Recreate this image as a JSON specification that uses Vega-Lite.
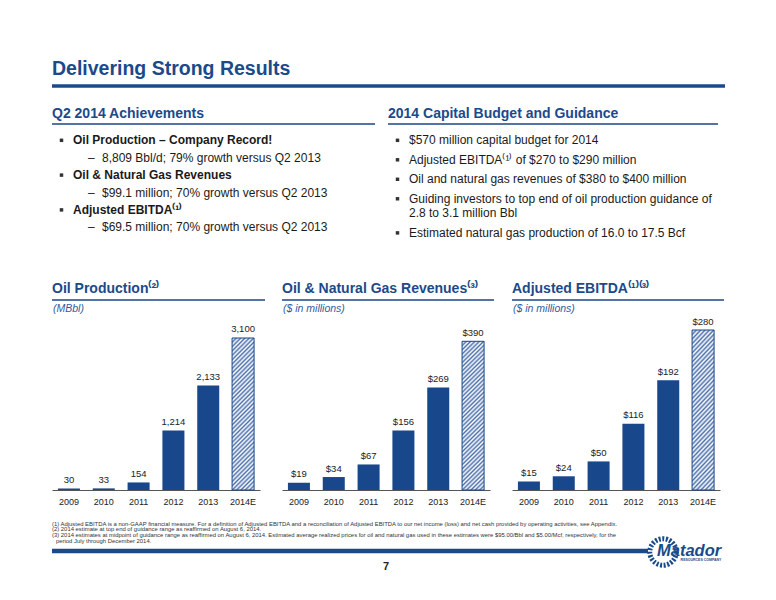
{
 "$schema": "https://vega.github.io/schema/vega-lite/v6.json",
 "padding": 0,
 "spacing": 0,
 "bounds": "full",
 "background": "white",
 "config": {
  "view": {"stroke": null},
  "font": "Liberation Sans",
  "text": {"font": "Liberation Sans"},
  "axis": {"labelFont": "Liberation Sans"}
 },
 "datasets": {
  "hdrL": [
   {"n": 0, "lvl": 1, "t": "Oil Production – Company Record!"},
   {"n": 1, "lvl": 2, "t": "8,809 Bbl/d; 79% growth versus Q2 2013"},
   {"n": 2, "lvl": 1, "t": "Oil & Natural Gas Revenues"},
   {"n": 3, "lvl": 2, "t": "$99.1 million; 70% growth versus Q2 2013"},
   {"n": 4, "lvl": 1, "t": "Adjusted EBITDA⁽¹⁾"},
   {"n": 5, "lvl": 2, "t": "$69.5 million; 70% growth versus Q2 2013"}
  ],
  "hdrR": [
   {"n": 0, "lvl": 1, "t": "$570 million capital budget for 2014"},
   {"n": 1, "lvl": 1, "t": "Adjusted EBITDA⁽¹⁾ of $270 to $290 million"},
   {"n": 2, "lvl": 1, "t": "Oil and natural gas revenues of $380 to $400 million"},
   {"n": 3, "lvl": 1, "t": "Guiding investors to top end of oil production guidance of"},
   {"n": 3.75, "lvl": 0, "t": "2.8 to 3.1 million Bbl"},
   {"n": 4.75, "lvl": 1, "t": "Estimated natural gas production of 16.0 to 17.5 Bcf"}
  ],
  "foot": [
   {"n": 0, "t": "(1) Adjusted EBITDA is a non-GAAP financial measure. For a definition of Adjusted EBITDA and a reconciliation of Adjusted EBITDA to our net income (loss) and net cash provided by operating activities, see Appendix."},
   {"n": 1, "t": "(2) 2014 estimate at top end of guidance range as reaffirmed on August 6, 2014."},
   {"n": 2, "t": "(3) 2014 estimates at midpoint of guidance range as reaffirmed on August 6, 2014. Estimated average realized prices for oil and natural gas used in these estimates were $95.00/Bbl and $5.00/Mcf, respectively, for the"},
   {"n": 3, "t": "period July through December 2014."}
  ],
  "oil": [
   {"year": "2009", "v": 30}, {"year": "2010", "v": 33}, {"year": "2011", "v": 154},
   {"year": "2012", "v": 1214}, {"year": "2013", "v": 2133}, {"year": "2014E", "v": 3100}
  ],
  "rev": [
   {"year": "2009", "v": 19}, {"year": "2010", "v": 34}, {"year": "2011", "v": 67},
   {"year": "2012", "v": 156}, {"year": "2013", "v": 269}, {"year": "2014E", "v": 390}
  ],
  "ebitda": [
   {"year": "2009", "v": 15}, {"year": "2010", "v": 24}, {"year": "2011", "v": 50},
   {"year": "2012", "v": 116}, {"year": "2013", "v": 192}, {"year": "2014E", "v": 280}
  ]
 },
 "vconcat": [
  {
   "width": 776, "height": 312,
   "data": {"values": [{}]},
   "resolve": {"scale": {"y": "independent"}},
   "layer": [
    {"mark": {"type": "text", "text": "Delivering Strong Results", "x": 52, "y": 75, "align": "left", "baseline": "alphabetic", "fontSize": 19.5, "fontWeight": "bold", "color": "#1B4A8A"}, "encoding": {}},
    {"mark": {"type": "rule", "strokeWidth": 3.5, "color": "#1B4A8A"}, "encoding": {"x": {"value": 52}, "x2": {"value": 725}, "y": {"value": 86}}},
    {"mark": {"type": "text", "text": "Q2 2014 Achievements", "x": 52, "y": 118, "align": "left", "baseline": "alphabetic", "fontSize": 14, "fontWeight": "bold", "color": "#1B4A8A"}, "encoding": {}},
    {"mark": {"type": "text", "text": "2014 Capital Budget and Guidance", "x": 388, "y": 118, "align": "left", "baseline": "alphabetic", "fontSize": 14, "fontWeight": "bold", "color": "#1B4A8A"}, "encoding": {}},
    {"mark": {"type": "rule", "strokeWidth": 2, "color": "#5674A3"}, "encoding": {"x": {"value": 52}, "x2": {"value": 375}, "y": {"value": 124}}},
    {"mark": {"type": "rule", "strokeWidth": 2, "color": "#5674A3"}, "encoding": {"x": {"value": 388}, "x2": {"value": 718}, "y": {"value": 124}}},
    {"mark": {"type": "text", "text": "Oil Production⁽²⁾", "x": 52, "y": 293, "align": "left", "baseline": "alphabetic", "fontSize": 14, "fontWeight": "bold", "color": "#1B4A8A"}, "encoding": {}},
    {"mark": {"type": "text", "text": "Oil & Natural Gas Revenues⁽³⁾", "x": 282, "y": 293, "align": "left", "baseline": "alphabetic", "fontSize": 14, "fontWeight": "bold", "color": "#1B4A8A"}, "encoding": {}},
    {"mark": {"type": "text", "text": "Adjusted EBITDA⁽¹⁾⁽³⁾", "x": 512, "y": 293, "align": "left", "baseline": "alphabetic", "fontSize": 14, "fontWeight": "bold", "color": "#1B4A8A"}, "encoding": {}},
    {"mark": {"type": "rule", "strokeWidth": 2, "color": "#5674A3"}, "encoding": {"x": {"value": 52}, "x2": {"value": 265}, "y": {"value": 300}}},
    {"mark": {"type": "rule", "strokeWidth": 2, "color": "#5674A3"}, "encoding": {"x": {"value": 282}, "x2": {"value": 494}, "y": {"value": 300}}},
    {"mark": {"type": "rule", "strokeWidth": 2, "color": "#5674A3"}, "encoding": {"x": {"value": 512}, "x2": {"value": 724}, "y": {"value": 300}}},
    {"mark": {"type": "text", "text": "(MBbl)", "x": 53, "y": 312, "align": "left", "baseline": "alphabetic", "fontSize": 10.5, "fontStyle": "italic", "color": "#2F5C9E"}, "encoding": {}},
    {"mark": {"type": "text", "text": "($ in millions)", "x": 283, "y": 312, "align": "left", "baseline": "alphabetic", "fontSize": 10.5, "fontStyle": "italic", "color": "#2F5C9E"}, "encoding": {}},
    {"mark": {"type": "text", "text": "($ in millions)", "x": 513, "y": 312, "align": "left", "baseline": "alphabetic", "fontSize": 10.5, "fontStyle": "italic", "color": "#2F5C9E"}, "encoding": {}},
    {
     "data": {"name": "hdrL"},
     "transform": [{"filter": "datum.lvl == 1"}],
     "mark": {"type": "text", "x": 73, "align": "left", "baseline": "alphabetic", "fontSize": 12, "fontWeight": "bold", "color": "#1a1a1a"},
     "encoding": {"y": {"field": "n", "type": "quantitative", "scale": {"domain": [0, 5], "range": [144.3, 231.3]}, "axis": null}, "text": {"field": "t"}}
    },
    {
     "data": {"name": "hdrL"},
     "transform": [{"filter": "datum.lvl == 1"}],
     "mark": {"type": "point", "shape": "square", "filled": true, "size": 12, "color": "#333", "opacity": 1, "x": 61.5, "yOffset": -4},
     "encoding": {"y": {"field": "n", "type": "quantitative", "scale": {"domain": [0, 5], "range": [144.3, 231.3]}, "axis": null}}
    },
    {
     "data": {"name": "hdrL"},
     "transform": [{"filter": "datum.lvl == 2"}],
     "mark": {"type": "text", "text": "–", "x": 88, "align": "left", "baseline": "alphabetic", "fontSize": 12, "color": "#1a1a1a"},
     "encoding": {"y": {"field": "n", "type": "quantitative", "scale": {"domain": [0, 5], "range": [144.3, 231.3]}, "axis": null}}
    },
    {
     "data": {"name": "hdrL"},
     "transform": [{"filter": "datum.lvl == 2"}],
     "mark": {"type": "text", "x": 102, "align": "left", "baseline": "alphabetic", "fontSize": 12, "color": "#1a1a1a"},
     "encoding": {"y": {"field": "n", "type": "quantitative", "scale": {"domain": [0, 5], "range": [144.3, 231.3]}, "axis": null}, "text": {"field": "t"}}
    },
    {
     "data": {"name": "hdrR"},
     "mark": {"type": "text", "x": 409, "align": "left", "baseline": "alphabetic", "fontSize": 12, "color": "#1a1a1a"},
     "encoding": {"y": {"field": "n", "type": "quantitative", "scale": {"domain": [0, 4.75], "range": [144.3, 236.9]}, "axis": null}, "text": {"field": "t"}}
    },
    {
     "data": {"name": "hdrR"},
     "transform": [{"filter": "datum.lvl == 1"}],
     "mark": {"type": "point", "shape": "square", "filled": true, "size": 12, "color": "#333", "opacity": 1, "x": 397.5, "yOffset": -4},
     "encoding": {"y": {"field": "n", "type": "quantitative", "scale": {"domain": [0, 4.75], "range": [144.3, 236.9]}, "axis": null}}
    }
   ]
  },
  {
   "hconcat": [
    {"width": 30, "height": 193, "data": {"values": [{}]}, "mark": {"type": "text", "text": ""}, "encoding": {}},
    {
     "width": 208, "height": 193,
     "data": {"name": "oil"},
     "encoding": {
      "x": {"field": "year", "type": "ordinal", "scale": {"domain": ["2009", "2010", "2011", "2012", "2013", "2014E"], "paddingInner": 0.368, "paddingOuter": 0.17}, "axis": {"title": null, "labelAngle": 0, "ticks": false, "offset": -18, "domainColor": "#555", "labelFontSize": 9, "labelColor": "#222", "labelPadding": 7}},
      "y": {"field": "v", "type": "quantitative", "scale": {"domain": [0, 3569], "range": [175, 0], "nice": false}, "axis": null}
     },
     "layer": [
      {"transform": [{"filter": "datum.year != '2014E'"}], "mark": {"type": "bar", "color": "#18478B"}},
      {"transform": [{"filter": "datum.year == '2014E'"}], "mark": {"type": "bar", "stroke": "#18478B", "strokeWidth": 1, "fill": {"gradient": "linear", "x1": 0, "y1": 0, "x2": 0.163, "y2": 1.121, "stops": [{"offset":0,"color":"#4D71AD"},{"offset":0.0125,"color":"#fff"},{"offset":0.025,"color":"#4D71AD"},{"offset":0.0375,"color":"#fff"},{"offset":0.05,"color":"#4D71AD"},{"offset":0.0625,"color":"#fff"},{"offset":0.075,"color":"#4D71AD"},{"offset":0.0875,"color":"#fff"},{"offset":0.1,"color":"#4D71AD"},{"offset":0.1125,"color":"#fff"},{"offset":0.125,"color":"#4D71AD"},{"offset":0.1375,"color":"#fff"},{"offset":0.15,"color":"#4D71AD"},{"offset":0.1625,"color":"#fff"},{"offset":0.175,"color":"#4D71AD"},{"offset":0.1875,"color":"#fff"},{"offset":0.2,"color":"#4D71AD"},{"offset":0.2125,"color":"#fff"},{"offset":0.225,"color":"#4D71AD"},{"offset":0.2375,"color":"#fff"},{"offset":0.25,"color":"#4D71AD"},{"offset":0.2625,"color":"#fff"},{"offset":0.275,"color":"#4D71AD"},{"offset":0.2875,"color":"#fff"},{"offset":0.3,"color":"#4D71AD"},{"offset":0.3125,"color":"#fff"},{"offset":0.325,"color":"#4D71AD"},{"offset":0.3375,"color":"#fff"},{"offset":0.35,"color":"#4D71AD"},{"offset":0.3625,"color":"#fff"},{"offset":0.375,"color":"#4D71AD"},{"offset":0.3875,"color":"#fff"},{"offset":0.4,"color":"#4D71AD"},{"offset":0.4125,"color":"#fff"},{"offset":0.425,"color":"#4D71AD"},{"offset":0.4375,"color":"#fff"},{"offset":0.45,"color":"#4D71AD"},{"offset":0.4625,"color":"#fff"},{"offset":0.475,"color":"#4D71AD"},{"offset":0.4875,"color":"#fff"},{"offset":0.5,"color":"#4D71AD"},{"offset":0.5125,"color":"#fff"},{"offset":0.525,"color":"#4D71AD"},{"offset":0.5375,"color":"#fff"},{"offset":0.55,"color":"#4D71AD"},{"offset":0.5625,"color":"#fff"},{"offset":0.575,"color":"#4D71AD"},{"offset":0.5875,"color":"#fff"},{"offset":0.6,"color":"#4D71AD"},{"offset":0.6125,"color":"#fff"},{"offset":0.625,"color":"#4D71AD"},{"offset":0.6375,"color":"#fff"},{"offset":0.65,"color":"#4D71AD"},{"offset":0.6625,"color":"#fff"},{"offset":0.675,"color":"#4D71AD"},{"offset":0.6875,"color":"#fff"},{"offset":0.7,"color":"#4D71AD"},{"offset":0.7125,"color":"#fff"},{"offset":0.725,"color":"#4D71AD"},{"offset":0.7375,"color":"#fff"},{"offset":0.75,"color":"#4D71AD"},{"offset":0.7625,"color":"#fff"},{"offset":0.775,"color":"#4D71AD"},{"offset":0.7875,"color":"#fff"},{"offset":0.8,"color":"#4D71AD"},{"offset":0.8125,"color":"#fff"},{"offset":0.825,"color":"#4D71AD"},{"offset":0.8375,"color":"#fff"},{"offset":0.85,"color":"#4D71AD"},{"offset":0.8625,"color":"#fff"},{"offset":0.875,"color":"#4D71AD"},{"offset":0.8875,"color":"#fff"},{"offset":0.9,"color":"#4D71AD"},{"offset":0.9125,"color":"#fff"},{"offset":0.925,"color":"#4D71AD"},{"offset":0.9375,"color":"#fff"},{"offset":0.95,"color":"#4D71AD"},{"offset":0.9625,"color":"#fff"},{"offset":0.975,"color":"#4D71AD"},{"offset":0.9875,"color":"#fff"},{"offset":1,"color":"#4D71AD"}]}}},
      {"mark": {"type": "text", "baseline": "middle", "dy": -8.5, "fontSize": 9.5, "color": "#222"}, "encoding": {"text": {"field": "v", "type": "quantitative", "format": ",d"}}}
     ]
    },
    {
     "width": 208, "height": 193,
     "data": {"name": "rev"},
     "encoding": {
      "x": {"field": "year", "type": "ordinal", "scale": {"domain": ["2009", "2010", "2011", "2012", "2013", "2014E"], "paddingInner": 0.368, "paddingOuter": 0.17}, "axis": {"title": null, "labelAngle": 0, "ticks": false, "offset": -18, "domainColor": "#555", "labelFontSize": 9, "labelColor": "#222", "labelPadding": 7}},
      "y": {"field": "v", "type": "quantitative", "scale": {"domain": [0, 459], "range": [175, 0], "nice": false}, "axis": null}
     },
     "layer": [
      {"transform": [{"filter": "datum.year != '2014E'"}], "mark": {"type": "bar", "color": "#18478B"}},
      {"transform": [{"filter": "datum.year == '2014E'"}], "mark": {"type": "bar", "stroke": "#18478B", "strokeWidth": 1, "fill": {"gradient": "linear", "x1": 0, "y1": 0, "x2": 0.163, "y2": 1.121, "stops": [{"offset":0,"color":"#4D71AD"},{"offset":0.0125,"color":"#fff"},{"offset":0.025,"color":"#4D71AD"},{"offset":0.0375,"color":"#fff"},{"offset":0.05,"color":"#4D71AD"},{"offset":0.0625,"color":"#fff"},{"offset":0.075,"color":"#4D71AD"},{"offset":0.0875,"color":"#fff"},{"offset":0.1,"color":"#4D71AD"},{"offset":0.1125,"color":"#fff"},{"offset":0.125,"color":"#4D71AD"},{"offset":0.1375,"color":"#fff"},{"offset":0.15,"color":"#4D71AD"},{"offset":0.1625,"color":"#fff"},{"offset":0.175,"color":"#4D71AD"},{"offset":0.1875,"color":"#fff"},{"offset":0.2,"color":"#4D71AD"},{"offset":0.2125,"color":"#fff"},{"offset":0.225,"color":"#4D71AD"},{"offset":0.2375,"color":"#fff"},{"offset":0.25,"color":"#4D71AD"},{"offset":0.2625,"color":"#fff"},{"offset":0.275,"color":"#4D71AD"},{"offset":0.2875,"color":"#fff"},{"offset":0.3,"color":"#4D71AD"},{"offset":0.3125,"color":"#fff"},{"offset":0.325,"color":"#4D71AD"},{"offset":0.3375,"color":"#fff"},{"offset":0.35,"color":"#4D71AD"},{"offset":0.3625,"color":"#fff"},{"offset":0.375,"color":"#4D71AD"},{"offset":0.3875,"color":"#fff"},{"offset":0.4,"color":"#4D71AD"},{"offset":0.4125,"color":"#fff"},{"offset":0.425,"color":"#4D71AD"},{"offset":0.4375,"color":"#fff"},{"offset":0.45,"color":"#4D71AD"},{"offset":0.4625,"color":"#fff"},{"offset":0.475,"color":"#4D71AD"},{"offset":0.4875,"color":"#fff"},{"offset":0.5,"color":"#4D71AD"},{"offset":0.5125,"color":"#fff"},{"offset":0.525,"color":"#4D71AD"},{"offset":0.5375,"color":"#fff"},{"offset":0.55,"color":"#4D71AD"},{"offset":0.5625,"color":"#fff"},{"offset":0.575,"color":"#4D71AD"},{"offset":0.5875,"color":"#fff"},{"offset":0.6,"color":"#4D71AD"},{"offset":0.6125,"color":"#fff"},{"offset":0.625,"color":"#4D71AD"},{"offset":0.6375,"color":"#fff"},{"offset":0.65,"color":"#4D71AD"},{"offset":0.6625,"color":"#fff"},{"offset":0.675,"color":"#4D71AD"},{"offset":0.6875,"color":"#fff"},{"offset":0.7,"color":"#4D71AD"},{"offset":0.7125,"color":"#fff"},{"offset":0.725,"color":"#4D71AD"},{"offset":0.7375,"color":"#fff"},{"offset":0.75,"color":"#4D71AD"},{"offset":0.7625,"color":"#fff"},{"offset":0.775,"color":"#4D71AD"},{"offset":0.7875,"color":"#fff"},{"offset":0.8,"color":"#4D71AD"},{"offset":0.8125,"color":"#fff"},{"offset":0.825,"color":"#4D71AD"},{"offset":0.8375,"color":"#fff"},{"offset":0.85,"color":"#4D71AD"},{"offset":0.8625,"color":"#fff"},{"offset":0.875,"color":"#4D71AD"},{"offset":0.8875,"color":"#fff"},{"offset":0.9,"color":"#4D71AD"},{"offset":0.9125,"color":"#fff"},{"offset":0.925,"color":"#4D71AD"},{"offset":0.9375,"color":"#fff"},{"offset":0.95,"color":"#4D71AD"},{"offset":0.9625,"color":"#fff"},{"offset":0.975,"color":"#4D71AD"},{"offset":0.9875,"color":"#fff"},{"offset":1,"color":"#4D71AD"}]}}},
      {"mark": {"type": "text", "baseline": "middle", "dy": -8.5, "fontSize": 9.5, "color": "#222"}, "encoding": {"text": {"field": "v", "type": "quantitative", "format": "$,d"}}}
     ]
    },
    {
     "width": 208, "height": 193,
     "data": {"name": "ebitda"},
     "encoding": {
      "x": {"field": "year", "type": "ordinal", "scale": {"domain": ["2009", "2010", "2011", "2012", "2013", "2014E"], "paddingInner": 0.368, "paddingOuter": 0.17}, "axis": {"title": null, "labelAngle": 0, "ticks": false, "offset": -18, "domainColor": "#555", "labelFontSize": 9, "labelColor": "#222", "labelPadding": 7}},
      "y": {"field": "v", "type": "quantitative", "scale": {"domain": [0, 306.25], "range": [175, 0], "nice": false}, "axis": null}
     },
     "layer": [
      {"transform": [{"filter": "datum.year != '2014E'"}], "mark": {"type": "bar", "color": "#18478B"}},
      {"transform": [{"filter": "datum.year == '2014E'"}], "mark": {"type": "bar", "stroke": "#18478B", "strokeWidth": 1, "fill": {"gradient": "linear", "x1": 0, "y1": 0, "x2": 0.163, "y2": 1.121, "stops": [{"offset":0,"color":"#4D71AD"},{"offset":0.0125,"color":"#fff"},{"offset":0.025,"color":"#4D71AD"},{"offset":0.0375,"color":"#fff"},{"offset":0.05,"color":"#4D71AD"},{"offset":0.0625,"color":"#fff"},{"offset":0.075,"color":"#4D71AD"},{"offset":0.0875,"color":"#fff"},{"offset":0.1,"color":"#4D71AD"},{"offset":0.1125,"color":"#fff"},{"offset":0.125,"color":"#4D71AD"},{"offset":0.1375,"color":"#fff"},{"offset":0.15,"color":"#4D71AD"},{"offset":0.1625,"color":"#fff"},{"offset":0.175,"color":"#4D71AD"},{"offset":0.1875,"color":"#fff"},{"offset":0.2,"color":"#4D71AD"},{"offset":0.2125,"color":"#fff"},{"offset":0.225,"color":"#4D71AD"},{"offset":0.2375,"color":"#fff"},{"offset":0.25,"color":"#4D71AD"},{"offset":0.2625,"color":"#fff"},{"offset":0.275,"color":"#4D71AD"},{"offset":0.2875,"color":"#fff"},{"offset":0.3,"color":"#4D71AD"},{"offset":0.3125,"color":"#fff"},{"offset":0.325,"color":"#4D71AD"},{"offset":0.3375,"color":"#fff"},{"offset":0.35,"color":"#4D71AD"},{"offset":0.3625,"color":"#fff"},{"offset":0.375,"color":"#4D71AD"},{"offset":0.3875,"color":"#fff"},{"offset":0.4,"color":"#4D71AD"},{"offset":0.4125,"color":"#fff"},{"offset":0.425,"color":"#4D71AD"},{"offset":0.4375,"color":"#fff"},{"offset":0.45,"color":"#4D71AD"},{"offset":0.4625,"color":"#fff"},{"offset":0.475,"color":"#4D71AD"},{"offset":0.4875,"color":"#fff"},{"offset":0.5,"color":"#4D71AD"},{"offset":0.5125,"color":"#fff"},{"offset":0.525,"color":"#4D71AD"},{"offset":0.5375,"color":"#fff"},{"offset":0.55,"color":"#4D71AD"},{"offset":0.5625,"color":"#fff"},{"offset":0.575,"color":"#4D71AD"},{"offset":0.5875,"color":"#fff"},{"offset":0.6,"color":"#4D71AD"},{"offset":0.6125,"color":"#fff"},{"offset":0.625,"color":"#4D71AD"},{"offset":0.6375,"color":"#fff"},{"offset":0.65,"color":"#4D71AD"},{"offset":0.6625,"color":"#fff"},{"offset":0.675,"color":"#4D71AD"},{"offset":0.6875,"color":"#fff"},{"offset":0.7,"color":"#4D71AD"},{"offset":0.7125,"color":"#fff"},{"offset":0.725,"color":"#4D71AD"},{"offset":0.7375,"color":"#fff"},{"offset":0.75,"color":"#4D71AD"},{"offset":0.7625,"color":"#fff"},{"offset":0.775,"color":"#4D71AD"},{"offset":0.7875,"color":"#fff"},{"offset":0.8,"color":"#4D71AD"},{"offset":0.8125,"color":"#fff"},{"offset":0.825,"color":"#4D71AD"},{"offset":0.8375,"color":"#fff"},{"offset":0.85,"color":"#4D71AD"},{"offset":0.8625,"color":"#fff"},{"offset":0.875,"color":"#4D71AD"},{"offset":0.8875,"color":"#fff"},{"offset":0.9,"color":"#4D71AD"},{"offset":0.9125,"color":"#fff"},{"offset":0.925,"color":"#4D71AD"},{"offset":0.9375,"color":"#fff"},{"offset":0.95,"color":"#4D71AD"},{"offset":0.9625,"color":"#fff"},{"offset":0.975,"color":"#4D71AD"},{"offset":0.9875,"color":"#fff"},{"offset":1,"color":"#4D71AD"}]}}},
      {"mark": {"type": "text", "baseline": "middle", "dy": -8.5, "fontSize": 9.5, "color": "#222"}, "encoding": {"text": {"field": "v", "type": "quantitative", "format": "$,d"}}}
     ]
    }
   ],
   "spacing": 22,
   "bounds": "full"
  },
  {
   "width": 776, "height": 95,
   "data": {"values": [{}]},
   "resolve": {"scale": {"y": "independent"}},
   "layer": [
    {"mark": {"type": "rule", "strokeWidth": 4.5, "color": "#1B4A8A"}, "encoding": {"x": {"value": 52}, "x2": {"value": 648}, "y": {"value": 43}}},
    {
     "data": {"name": "foot"},
     "transform": [{"filter": "datum.n < 3"}],
     "mark": {"type": "text", "x": 52, "align": "left", "baseline": "middle", "fontSize": 5.9, "color": "#333"},
     "encoding": {"y": {"field": "n", "type": "quantitative", "scale": {"domain": [0, 3], "range": [15.7, 33]}, "axis": null}, "text": {"field": "t"}}
    },
    {
     "data": {"name": "foot"},
     "transform": [{"filter": "datum.n == 3"}],
     "mark": {"type": "text", "x": 56, "align": "left", "baseline": "middle", "fontSize": 5.9, "color": "#333"},
     "encoding": {"y": {"field": "n", "type": "quantitative", "scale": {"domain": [0, 3], "range": [15.7, 33]}, "axis": null}, "text": {"field": "t"}}
    },
    {"mark": {"type": "point", "x": 663, "y": 44, "shape": "circle", "size": 700, "filled": false, "stroke": "#1B4A8A", "strokeWidth": 5, "strokeDash": [2, 1.6], "opacity": 1}, "encoding": {}},
    {"mark": {"type": "text", "text": "Matador", "x": 657, "y": 48, "align": "left", "baseline": "alphabetic", "fontSize": 16.5, "fontWeight": "bold", "fontStyle": "italic", "color": "#1B4A8A"}, "encoding": {}},
    {"mark": {"type": "text", "text": "RESOURCES COMPANY", "x": 701, "y": 52, "align": "center", "baseline": "middle", "fontSize": 3.5, "fontWeight": "bold", "color": "#1B4A8A"}, "encoding": {}},
    {"mark": {"type": "text", "text": "7", "x": 386, "y": 59, "align": "center", "baseline": "middle", "fontSize": 11, "fontWeight": "bold", "color": "#222"}, "encoding": {}}
   ]
  }
 ]
}
